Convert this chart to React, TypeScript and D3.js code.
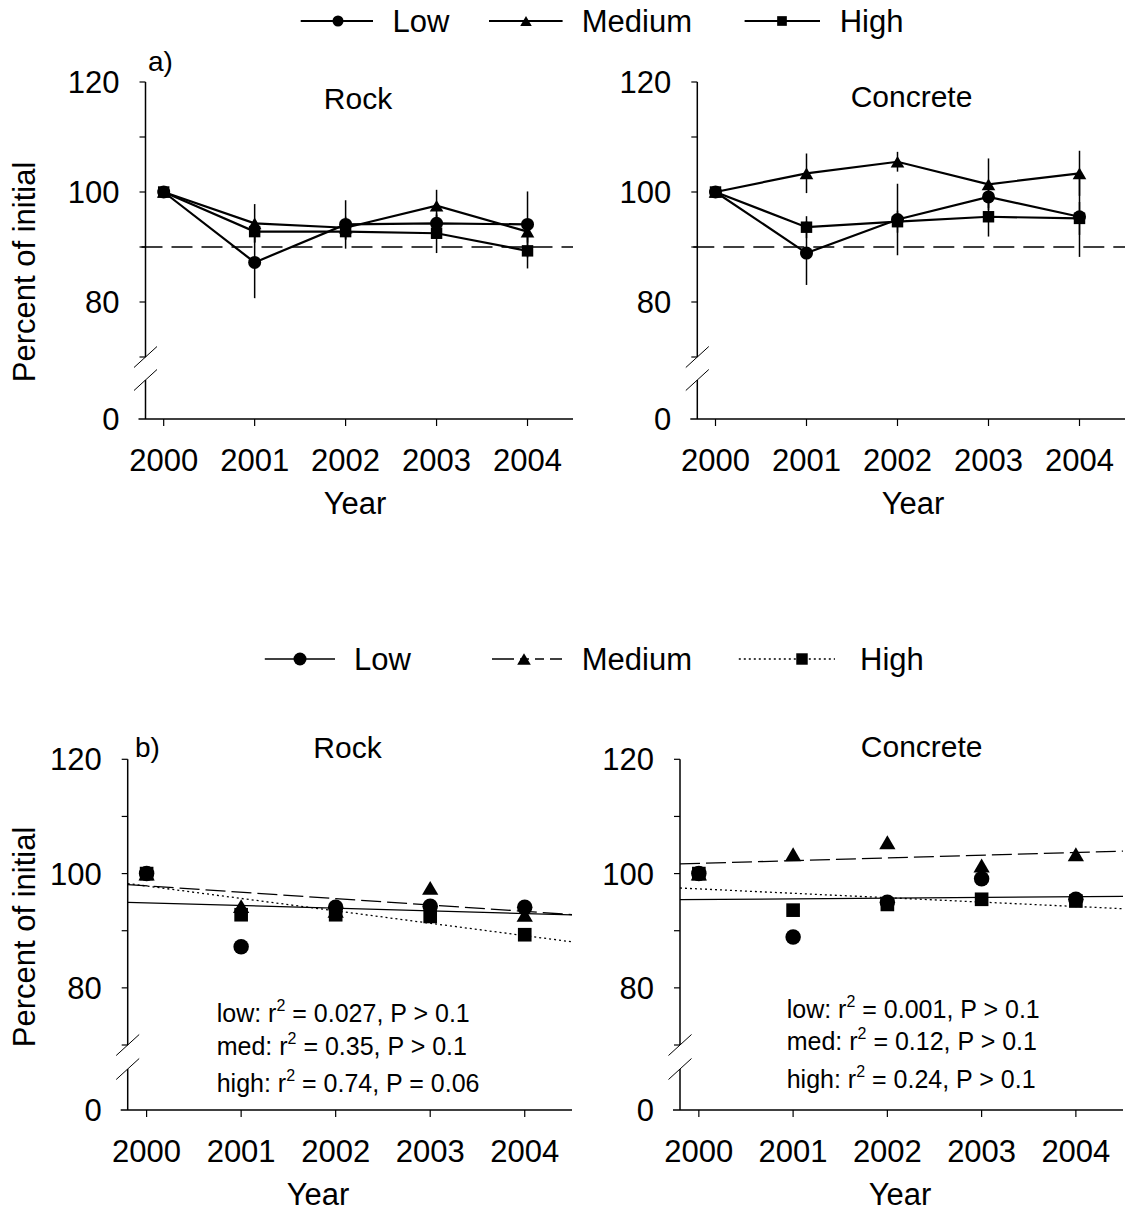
import React from "react";
import * as d3 from "d3";

const years = [2000, 2001, 2002, 2003, 2004];
const yTickLabels = [120, 100, 80];
const yMinorTicks = [120, 110, 100, 90, 80, 70];

const rockLow = [100, 87.2, 94.1, 94.3, 94.1];
const rockMed = [100, 94.3, 93.5, 97.5, 92.8];
const rockHigh = [100, 92.8, 92.8, 92.5, 89.3];
const rockLowErr = [0, 6.5, 4.4, 1.5, 6.0];
const rockMedErr = [0, 3.5, 2.0, 2.9, 2.0];
const rockHighErr = [0, 2.0, 1.5, 3.6, 3.2];

const concLow = [100, 88.9, 95.0, 99.1, 95.5];
const concMed = [100, 103.4, 105.5, 101.4, 103.4];
const concHigh = [100, 93.6, 94.6, 95.5, 95.2];
const concLowErr = [0, 5.8, 6.5, 2.0, 7.3];
const concMedErr = [0, 3.6, 1.8, 4.7, 4.1];
const concHighErr = [0, 2.0, 2.0, 3.6, 3.0];

const rockStats = [
  { name: "low", r2: "0.027", p: "P > 0.1" },
  { name: "med", r2: "0.35", p: "P > 0.1" },
  { name: "high", r2: "0.74", p: "P = 0.06" },
];
const concStats = [
  { name: "low", r2: "0.001", p: "P > 0.1" },
  { name: "med", r2: "0.12", p: "P > 0.1" },
  { name: "high", r2: "0.24", p: "P > 0.1" },
];

const seriesNames = ["Low", "Medium", "High"];
const FONT = "'Liberation Sans', Arial, sans-serif";

function Marker({ kind, x, y, s }: { kind: string; x: number; y: number; s: number }) {
  if (kind === "Low") return <circle cx={x} cy={y} r={s / 2} fill="#000" />;
  if (kind === "Medium") {
    const w = s * 1.05, h = s * 0.9;
    return <path d={`M${x - w / 2},${y + h / 2}L${x + w / 2},${y + h / 2}L${x},${y - h / 2}Z`} fill="#000" />;
  }
  const q = s * 0.88;
  return <rect x={x - q / 2} y={y - q / 2} width={q} height={q} fill="#000" />;
}

type PanelCfg = {
  x0: number; x1: number; yTop: number; y70: number; yLow: number; yZero: number;
  title: string; titleX: number; titleY: number; yearX: number;
  data: number[][]; errs?: number[][]; regression?: boolean; stats?: any[];
  statX?: number; statY?: number[]; markerSize: number; letter?: string; letterX?: number; letterY?: number;
};

function Panel({ c }: { c: PanelCfg }) {
  const x = d3.scaleLinear().domain([1999.8, 2004.5]).range([c.x0, c.x1]);
  const y = d3.scaleLinear().domain([70, 120]).range([c.y70, c.yTop]);
  const line = d3.line<number>().x((_, i) => x(years[i])).y((v) => y(v));
  const dashes = ["", "20 6", "2 3"];
  return (
    <g fontFamily={FONT}>
      <line x1={c.x0} x2={c.x0} y1={c.yTop} y2={c.y70} stroke="#000" strokeWidth={1.5} />
      <line x1={c.x0} x2={c.x0} y1={c.yLow} y2={c.yZero} stroke="#000" strokeWidth={1.5} />
      <line x1={c.x0 - 7} x2={c.x1} y1={c.yZero} y2={c.yZero} stroke="#000" strokeWidth={1.5} />
      {[c.y70, c.yLow].map((yy, i) => (
        <line key={i} x1={c.x0 - 11.5} y1={yy + 10.5} x2={c.x0 + 11.5} y2={yy - 10.5} stroke="#000" strokeWidth={1} />
      ))}
      {yMinorTicks.map((t) => (
        <line key={t} x1={c.x0 - 6} x2={c.x0} y1={y(t)} y2={y(t)} stroke="#000" strokeWidth={1.2} />
      ))}
      {yTickLabels.map((t) => (
        <text key={t} x={c.x0 - 26} y={y(t)} dy="0.36em" textAnchor="end" fontSize={31}>{t}</text>
      ))}
      <text x={c.x0 - 26} y={c.yZero} dy="0.36em" textAnchor="end" fontSize={31}>0</text>
      {years.map((yr) => (
        <g key={yr}>
          <line x1={x(yr)} x2={x(yr)} y1={c.yZero} y2={c.yZero + 7} stroke="#000" strokeWidth={1.2} />
          <text x={x(yr)} y={c.yZero + 52} textAnchor="middle" fontSize={31}>{yr}</text>
        </g>
      ))}
      <text x={c.yearX} y={c.yZero + 95} textAnchor="middle" fontSize={31}>Year</text>
      <text x={c.titleX} y={c.titleY} textAnchor="middle" fontSize={30}>{c.title}</text>
      {c.letter && <text x={c.letterX} y={c.letterY} fontSize={28}>{c.letter}</text>}

      {!c.regression && (
        <line x1={c.x0 - 4} x2={c.x1} y1={y(90)} y2={y(90)} stroke="#000" strokeWidth={1.4} strokeDasharray="21 9" />
      )}
      {!c.regression && c.data.map((s, k) => (
        <path key={"l" + k} d={line(s) || ""} fill="none" stroke="#000" strokeWidth={2.2} />
      ))}
      {!c.regression && c.errs && c.data.map((s, k) => (
        <g key={"e" + k}>
          {s.map((v, i) => c.errs![k][i] > 0 ? (
            <line key={i} x1={x(years[i])} x2={x(years[i])} y1={y(v - c.errs![k][i])} y2={y(v + c.errs![k][i])} stroke="#000" strokeWidth={1.5} />
          ) : null)}
        </g>
      ))}
      {c.regression && c.data.map((s, k) => {
        const xs = years.map((v) => v - 2000);
        const mx = d3.mean(xs)!, my = d3.mean(s)!;
        const sxy = d3.sum(xs.map((v, i) => (v - mx) * (s[i] - my)));
        const sxx = d3.sum(xs.map((v) => (v - mx) * (v - mx)));
        const b = sxy / sxx, a = my - b * mx;
        const d0 = 1999.8, d1 = 2004.5;
        return (
          <line key={"r" + k} x1={x(d0)} x2={x(d1)} y1={y(a + b * (d0 - 2000))} y2={y(a + b * (d1 - 2000))}
            stroke="#000" strokeWidth={1.3} strokeDasharray={dashes[k] || undefined} />
        );
      })}
      {c.data.map((s, k) => (
        <g key={"m" + k}>
          {s.map((v, i) => <Marker key={i} kind={seriesNames[k]} x={x(years[i])} y={y(v)} s={c.markerSize} />)}
        </g>
      ))}
      {c.stats && c.stats.map((st, i) => (
        <text key={i} x={c.statX} y={c.statY![i]} fontSize={25}>
          {st.name + ": r"}
          <tspan fontSize={16} dy={-11}>2</tspan>
          <tspan dy={11}>{" = " + st.r2 + ", " + st.p}</tspan>
        </text>
      ))}
    </g>
  );
}

export default function App() {
  const panels: PanelCfg[] = [
    { x0: 145.5, x1: 573, yTop: 82, y70: 357, yLow: 380, yZero: 419, title: "Rock", titleX: 358, titleY: 109, yearX: 355,
      data: [rockLow, rockMed, rockHigh], errs: [rockLowErr, rockMedErr, rockHighErr], markerSize: 13,
      letter: "a)", letterX: 148, letterY: 71 },
    { x0: 697.3, x1: 1125, yTop: 82, y70: 357, yLow: 380, yZero: 419, title: "Concrete", titleX: 911.5, titleY: 107, yearX: 913,
      data: [concLow, concMed, concHigh], errs: [concLowErr, concMedErr, concHighErr], markerSize: 13 },
    { x0: 127.7, x1: 572, yTop: 759.3, y70: 1045, yLow: 1069, yZero: 1110, title: "Rock", titleX: 347.5, titleY: 758, yearX: 318,
      data: [rockLow, rockMed, rockHigh], regression: true, stats: rockStats, statX: 216.7, statY: [1021.7, 1055, 1091.7],
      markerSize: 15.5, letter: "b)", letterX: 135, letterY: 757 },
    { x0: 680, x1: 1123, yTop: 759.3, y70: 1045, yLow: 1069, yZero: 1110, title: "Concrete", titleX: 921.7, titleY: 757, yearX: 900,
      data: [concLow, concMed, concHigh], regression: true, stats: concStats, statX: 786.7, statY: [1018.3, 1050, 1088.3],
      markerSize: 15.5 },
  ];

  const topLegend = [
    { name: "Low", l0: 300.7, l1: 373, m: 338, tx: 392.6, dash: undefined },
    { name: "Medium", l0: 489, l1: 562.6, m: 526, tx: 581.8, dash: undefined },
    { name: "High", l0: 744.6, l1: 820, m: 782, tx: 839.7, dash: undefined },
  ];
  const botLegend = [
    { name: "Low", l0: 264.8, l1: 335, m: 300, tx: 354, dash: undefined },
    { name: "Medium", l0: 492, l1: 562, m: 524, tx: 581.8, dash: "22 6 9 6 9 6" },
    { name: "High", l0: 738.8, l1: 835, m: 802, tx: 860, dash: "2 3" },
  ];

  return (
    <svg width={1127} height={1215} style={{ position: "absolute", left: 0, top: 0, background: "#fff" }} fontFamily={FONT}>
      <rect width={1127} height={1215} fill="#fff" />
      {topLegend.map((l) => (
        <g key={"t" + l.name}>
          <line x1={l.l0} x2={l.l1} y1={21} y2={21} stroke="#000" strokeWidth={2} />
          <Marker kind={l.name} x={l.m} y={21} s={11} />
          <text x={l.tx} y={32} fontSize={31}>{l.name}</text>
        </g>
      ))}
      {botLegend.map((l) => (
        <g key={"b" + l.name}>
          <line x1={l.l0} x2={l.l1} y1={659} y2={659} stroke="#000" strokeWidth={1.3} strokeDasharray={l.dash} />
          <Marker kind={l.name} x={l.m} y={659} s={13} />
          <text x={l.tx} y={670} fontSize={31}>{l.name}</text>
        </g>
      ))}
      <text transform="translate(35,272) rotate(-90)" textAnchor="middle" fontSize={31}>Percent of initial</text>
      <text transform="translate(35,937) rotate(-90)" textAnchor="middle" fontSize={31}>Percent of initial</text>
      {panels.map((p, i) => <Panel key={i} c={p} />)}
    </svg>
  );
}
